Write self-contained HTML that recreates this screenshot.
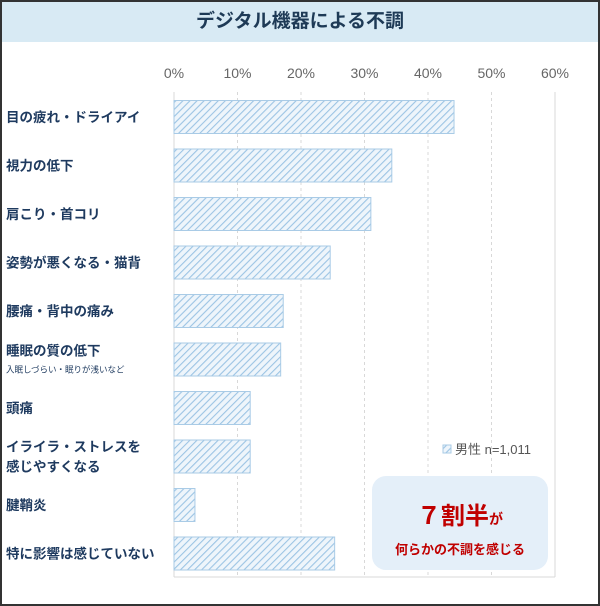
<!DOCTYPE html>
<html><head><meta charset="utf-8"><style>
body{margin:0;width:600px;height:606px;overflow:hidden;background:#fff;font-family:"Liberation Sans","Noto Sans CJK JP",sans-serif}
#frame{position:absolute;left:0;top:0;width:596px;height:602px;border:2px solid #333;background:#fff;overflow:hidden}
#title{position:absolute;left:0;top:0;width:596px;height:40px;background:#d8eaf4;color:#1e3a56;font-weight:bold;font-size:19px;text-align:center;line-height:40px}
</style></head><body>
<div id="frame">
<div id="title">デジタル機器による不調</div>
</div>
<svg id="chart" width="600" height="606" style="position:absolute;left:0;top:0">
<defs><pattern id="hatch" width="5" height="5" patternUnits="userSpaceOnUse" patternTransform="rotate(45)">
<rect width="5" height="5" fill="#eef5fb"/><line x1="0" y1="0" x2="0" y2="5" stroke="#9cc4e4" stroke-width="2.2"/></pattern></defs>
</svg>
<div style="position:absolute;left:372px;top:476px;width:176px;height:94px;background:#e4eff9;border-radius:14px;text-align:center;color:#c00000;font-weight:bold">
<div style="margin-top:20px;font-size:24px">７割半<span style="font-size:14px">が</span></div>
<div style="margin-top:8px;font-size:13px">何らかの不調を感じる</div>
</div>
<script>
const categories=["目の疲れ・ドライアイ","視力の低下","肩こり・首コリ","姿勢が悪くなる・猫背","腰痛・背中の痛み","睡眠の質の低下","頭痛","イライラ・ストレスを|感じやすくなる","腱鞘炎","特に影響は感じていない"];
const values=[44.1,34.3,31.0,24.6,17.2,16.8,12.0,12.0,3.3,25.3];
const ticks=[0,10,20,30,40,50,60];
const NS="http://www.w3.org/2000/svg";
const svg=document.getElementById('chart');
const x0=174,x1=555,yTop=92,yBottom=577,band=48.5,bh=33;
const xs=v=>x0+(v/60)*(x1-x0);
const yc=i=>117+i*band;
function mk(t,a){const e=document.createElementNS(NS,t);for(const k in a)e.setAttribute(k,a[k]);svg.appendChild(e);return e;}
ticks.forEach((t,i)=>{
 const g=mk('line',{x1:xs(t),x2:xs(t),y1:yTop,y2:yBottom,stroke:'#d8d8d8','stroke-dasharray':(i==0||i==6)?'none':'3,3'});
 
 
 const tx=mk('text',{x:xs(t),y:78,'text-anchor':'middle','font-size':14,fill:'#666'});
 tx.textContent=t+'%';
 
 
});
const bl=mk('line',{x1:x0,x2:x1,y1:yBottom,y2:yBottom,stroke:'#d8d8d8'});


categories.forEach((c,i)=>{
 const r=mk('rect',{x:x0,y:yc(i)-bh/2,width:xs(values[i])-x0,height:bh,fill:'url(#hatch)',stroke:'#a9cbe6','stroke-width':1});
 
 
 const parts=c.split('|');
 const t=mk('text',{x:6,'font-size':13.5,'font-weight':'bold',fill:'#1e3a5f'});
 
 
 if(parts.length==2){
  parts.forEach((p,j)=>{const s=document.createElementNS(NS,'tspan');s.setAttribute('x',6);s.setAttribute('y',yc(i)-5+j*20);s.textContent=p;t.appendChild(s);});
 } else if(i==5){
  t.setAttribute('y',yc(i)-4);t.textContent=c;
  const n=mk('text',{x:6,y:yc(i)+13,'font-size':8.5,fill:'#1e3a5f'});
  n.textContent='入眠しづらい・眠りが浅いなど';
  
  
 } else {t.setAttribute('y',yc(i)+5);t.textContent=c;}
});
const lg=mk('rect',{x:443,y:445,width:8,height:8,fill:'url(#hatch)',stroke:'#a9cbe6'});


const lt=mk('text',{x:455,y:454,'font-size':13,fill:'#555'});
lt.textContent='男性 n=1,011';


</script>
</body></html>
